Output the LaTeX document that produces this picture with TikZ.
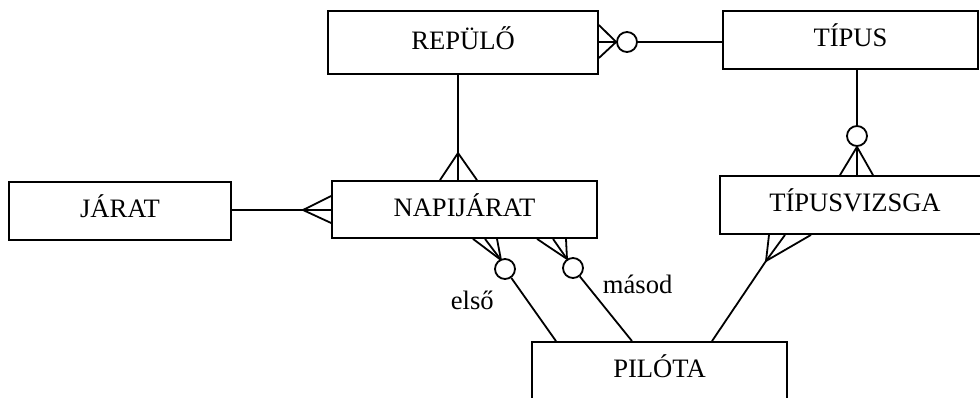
\documentclass[tikz,border=0pt]{standalone}
\usepackage{fontspec}
\setmainfont{Liberation Serif}
\begin{document}
\begin{tikzpicture}[x=1pt,y=-1pt,line width=1.8pt,
  ent/.style={draw,inner sep=0pt,minimum height=58pt,text height=17pt,text depth=3.8pt,
    font=\fontsize{26.6}{30}\selectfont},
  lbl/.style={inner sep=0pt,anchor=base west,font=\fontsize{26.6}{30}\selectfont},
  opt/.style={circle,draw,inner sep=0pt,minimum size=20pt}]
\clip (0,0) rectangle (980,398);
% entities
\node[ent,minimum width=270pt,minimum height=63pt] (rep) at (463,42.5) {REPÜLŐ};
\node[ent,minimum width=255pt] (tip) at (850.5,40) {TÍPUS};
\node[ent,minimum width=222pt] (jar) at (120,211) {JÁRAT};
\node[ent,minimum width=265pt,minimum height=57pt] (nap) at (464.5,209.5) {NAPIJÁRAT};
\node[ent,minimum width=270pt] (tv) at (855,205) {TÍPUSVIZSGA};
\node[ent,minimum width=255pt] (pil) at (659.5,371) {PILÓTA};
% optionality circles
\node[opt] (o1) at (627,42) {};
\node[opt] (o2) at (857,136) {};
\node[opt] (o3) at (505,269) {};
\node[opt] (o4) at (573,268) {};
% crow's foot convergence points
\coordinate (c2) at (458,153);
\coordinate (c3) at (303,210);
\coordinate (c5) at (501,260);
\coordinate (c6) at (567,259);
\coordinate (c7) at (766,261);
% REPÜLŐ -- TÍPUS
\draw (o1.east) -- (o1.east -| tip.west);
\draw (rep.east |- 0,25) -- (o1.west);
\draw (rep.east |- o1) -- (o1.west);
\draw (rep.east |- 0,58) -- (o1.west);
% REPÜLŐ -- NAPIJÁRAT
\draw (rep.south -| c2) -- (c2) -- (nap.north -| c2);
\draw (c2) -- (nap.north -| 440,0);
\draw (c2) -- (nap.north -| 477,0);
% JÁRAT -- NAPIJÁRAT
\draw (jar.east |- c3) -- (c3) -- (nap.west |- c3);
\draw (c3) -- (nap.west |- 0,196);
\draw (c3) -- (nap.west |- 0,223);
% TÍPUS -- TÍPUSVIZSGA
\draw (tip.south -| o2) -- (o2.north);
\draw (o2.south) -- (tv.north -| o2);
\draw (o2.south) -- (tv.north -| 840,0);
\draw (o2.south) -- (tv.north -| 873,0);
% NAPIJÁRAT -- PILÓTA (első)
\draw (nap.south -| 473,0) -- (c5);
\draw (nap.south -| 485,0) -- (c5);
\draw (nap.south -| 497,0) -- (c5);
\draw (o3) -- (pil.north -| 556,0);
% NAPIJÁRAT -- PILÓTA (másod)
\draw (nap.south -| 537,0) -- (c6);
\draw (nap.south -| 553,0) -- (c6);
\draw (nap.south -| 566,0) -- (c6);
\draw (o4) -- (pil.north -| 632,0);
% TÍPUSVIZSGA -- PILÓTA
\draw (tv.south -| 769,0) -- (c7);
\draw (tv.south -| 785,0) -- (c7);
\draw (tv.south -| 811,0) -- (c7);
\draw (c7) -- (pil.north -| 712,0);
% role labels
\node[lbl] (l1) at (450,309) {első};
\node[lbl] (l2) at (602,293) {másod};
\end{tikzpicture}
\end{document}
